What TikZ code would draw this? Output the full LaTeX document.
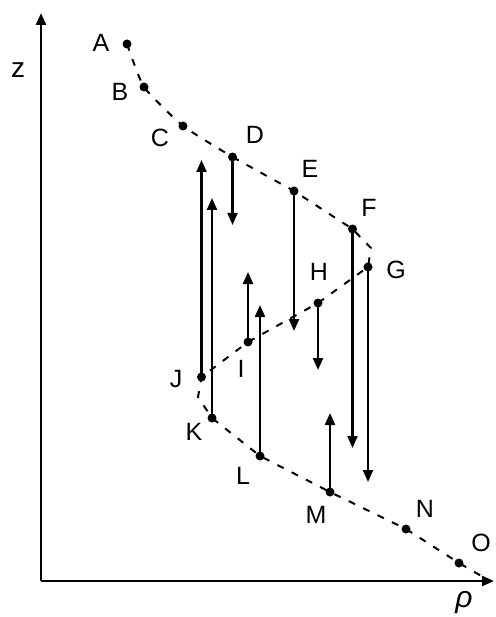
\documentclass[tikz,border=0pt]{standalone}
\usepackage{fontspec}
\setmainfont{Liberation Sans}
\usetikzlibrary{arrows.meta}
\begin{document}
\begin{tikzpicture}[x=1pt,y=-1pt,
  dot/.style={circle,fill=black,inner sep=0pt,minimum size=9pt},
  lbl/.style={font=\fontsize{25}{25}\selectfont, inner sep=0pt},
  curve/.style={line width=2pt, dash pattern=on 7pt off 9pt},
  vec/.style={line width=2.2pt, -{Triangle[length=12pt,width=10pt]}},
  axis/.style={line width=2.6pt, -{Triangle[length=12pt,width=10pt]}}]
\useasboundingbox (0,0) rectangle (495,617);
% axes
\coordinate (orig) at (41,581);
\coordinate (ztip) at (41,13);
\coordinate (rtip) at (494,581);
\draw[axis] (orig) -- (ztip);
\draw[axis] (orig) -- (rtip);
\node[lbl,font=\fontsize{28}{28}\selectfont] (zl) at (18,70) {z};
\node[lbl,font=\fontsize{30}{30}\selectfont\itshape] (rl) at (464,603) {ρ};
% points
\node[dot] (A) at (127,44) {};
\node[dot] (B) at (144,87) {};
\node[dot] (C) at (183,126) {};
\node[dot] (D) at (232.5,157) {};
\node[dot] (E) at (294,191) {};
\node[dot] (F) at (352.5,229) {};
\node[dot] (G) at (368,267) {};
\node[dot] (H) at (318,303) {};
\node[dot] (I) at (248,342) {};
\node[dot] (J) at (201.5,377) {};
\node[dot] (K) at (212,418) {};
\node[dot] (L) at (260,456) {};
\node[dot] (M) at (330,492) {};
\node[dot] (N) at (406,529) {};
\node[dot] (O) at (459,563) {};
\coordinate (FG) at (371,248);
\coordinate (JK) at (198,397);
\coordinate (end) at (490,581);
% curve
\draw[curve] plot[smooth,tension=0.3] coordinates {(A.center) (B.center) (C.center) (D.center)}
  -- (E.center) -- (F.center) -- (FG) -- (G.center) -- (H.center) -- (I.center) -- (J.center)
  -- (JK) -- (K.center) -- (L.center) -- (M.center) -- (N.center) -- (O.center) -- (end);
% labels
\node[lbl] (Al) at (101,43) {A};
\node[lbl] (Bl) at (120,92) {B};
\node[lbl] (Cl) at (160,138) {C};
\node[lbl] (Dl) at (255,135) {D};
\node[lbl] (El) at (310,169) {E};
\node[lbl] (Fl) at (369,208) {F};
\node[lbl] (Gl) at (396,270) {G};
\node[lbl] (Hl) at (319,272) {H};
\node[lbl] (Il) at (241,369) {I};
\node[lbl] (Jl) at (176,379) {J};
\node[lbl] (Kl) at (194,432) {K};
\node[lbl] (Ll) at (243,476) {L};
\node[lbl] (Ml) at (316,515) {M};
\node[lbl] (Nl) at (425,509) {N};
\node[lbl] (Ol) at (481,543) {O};
% arrow tips
\coordinate (tJ) at (201.5,160);
\coordinate (tK) at (212,198);
\coordinate (tD) at (232.5,225);
\coordinate (tE) at (294,331);
\coordinate (tI) at (248,272);
\coordinate (tL) at (260,305);
\coordinate (tH) at (318,370);
\coordinate (tF) at (352.5,448);
\coordinate (tG) at (368,482);
\coordinate (tM) at (330,413);
\draw[vec] (J.center) -- (tJ);
\draw[vec] (K.center) -- (tK);
\draw[vec] (D.center) -- (tD);
\draw[vec] (E.center) -- (tE);
\draw[vec] (I.center) -- (tI);
\draw[vec] (L.center) -- (tL);
\draw[vec] (H.center) -- (tH);
\draw[vec] (F.center) -- (tF);
\draw[vec] (G.center) -- (tG);
\draw[vec] (M.center) -- (tM);
\end{tikzpicture}
\end{document}
